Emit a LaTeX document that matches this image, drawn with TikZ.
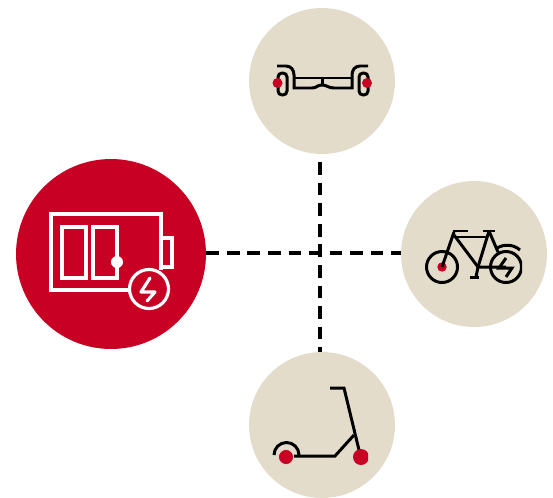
\documentclass[tikz,border=0pt]{standalone}
\definecolor{signalred}{RGB}{200,0,35}
\definecolor{sand}{RGB}{228,220,203}
\tikzset{
  hub/.style={circle,fill=signalred,minimum size=3.8cm,inner sep=0pt},
  device/.style={circle,fill=sand,minimum size=2.92cm,inner sep=0pt},
  link/.style={line width=1.8pt,dash pattern=on 7.2pt off 4.5pt},
  whiteline/.style={white,line width=1.8pt},
  blackline/.style={black,line width=1.7pt}
}
\begin{document}
\begin{tikzpicture}[x=0.02cm,y=-0.02cm]
\useasboundingbox (0,0) rectangle (553,497);
\node[hub] (battery) at (111,254) {};
\node[device] (hoverboard) at (322,81) {};
\node[device] (bike) at (474,254) {};
\node[device] (scooter) at (322,425) {};
\coordinate (cross) at (320,253);

\draw[link] (battery.east |- cross) -- (bike.west |- cross);
\draw[link,dash phase=7.2pt] (hoverboard.south -| cross) -- (scooter.north -| cross);

\draw[whiteline] (130,290)--(51,290)--(51,214)--(161,214)--(161,270);
\draw[whiteline] (161,238)--(172,238)--(172,267)--(161,267);
\draw[whiteline] (62,227) rectangle (86,278);
\draw[whiteline] (117,262)--(117,227)--(93,227)--(93,278)--(117,278)--(117,262);
\fill[white] (117,262) circle (6);
\draw[whiteline,fill=signalred] (149,289) circle (19.5);
\draw[whiteline,line cap=round,line join=round] (150,278)--(141,292)--(155,292)--(147,301);

\draw[blackline] (277,66)--(286,66) .. controls (291,66) and (294,70) .. (294,75)--(294,88)--(312,88) .. controls (317,88) and (317,85) .. (322,85) .. controls (327,85) and (328,88) .. (334,88)--(352,88)--(352,75) .. controls (352,70) and (355,66) .. (360,66)--(368,66);
\draw[blackline] (294,78)--(352,78);
\draw[blackline] (322,78)--(322,85);
\draw[blackline,rounded corners=2.3pt] (278,73) rectangle (287,95);
\draw[blackline,rounded corners=2.3pt] (359,73) rectangle (368,95);
\fill[signalred] (277.5,83) circle (5);
\begin{scope}
\clip (355,70) rectangle (372,96);
\fill[signalred] (367,83) circle (5);
\end{scope}

\begin{scope}
\clip (420,225) rectangle (522,290);
\draw[blackline] (442,267) circle (15.5);
\draw[blackline] (506,267) circle (15.5);
\end{scope}
\fill[signalred] (442,267) circle (4.7);
\draw[blackline] (442,267)--(454,232);
\draw[blackline] (453,231)--(468,231);
\draw[blackline] (454,237)--(488,237);
\draw[blackline] (454,235)--(478,267)--(506,267);
\draw[blackline] (489,231)--(478,267)--(476,277);
\draw[blackline] (470,277)--(479,277);
\draw[blackline] (483,231)--(495,231);
\draw[blackline] (489,231)--(498,252);
\draw[blackline] (497,248) .. controls (504,244) and (513,244) .. (520,250);
\draw[blackline] (506,258)--(499,268)--(512,268)--(506,277);

\draw[blackline] (330,388)--(344,388)--(359,450);
\draw[blackline] (354,435)--(335,456)--(294,456);
\draw[blackline] (274,455) arc (180:360:12.5);
\fill[signalred,draw=sand] (286,457) circle (7.5);
\begin{scope}
\clip (345,440) rectangle (368,470);
\fill[signalred] (361,457) circle (8);
\end{scope}
\end{tikzpicture}
\end{document}
